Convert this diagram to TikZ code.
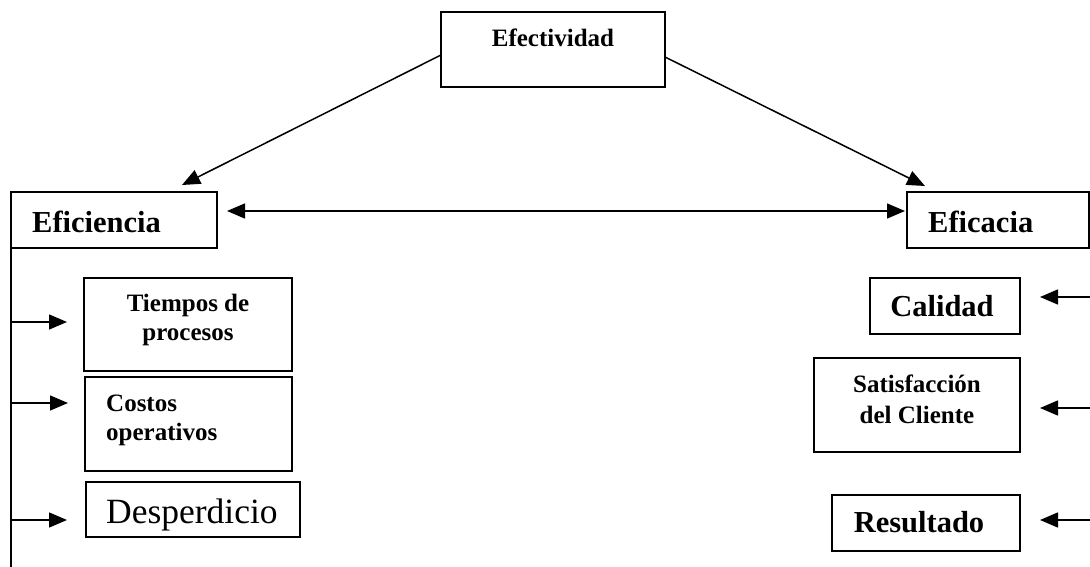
\documentclass[tikz,border=0pt]{standalone}
\usepackage{fontspec}
\setmainfont{Liberation Serif}
\usetikzlibrary{arrows.meta,calc}
\begin{document}
\begin{tikzpicture}[x=1pt,y=-1pt,
  box/.style={draw,line width=2pt,inner sep=0pt,outer sep=0pt,minimum width=#1},
  big/.style={font=\bfseries\fontsize{30.5}{36}\selectfont,inner sep=0pt},
  small/.style={font=\bfseries\fontsize{25}{#1}\selectfont,inner sep=0pt},
  small/.default=29,
  tip/.style={-{Triangle[length=18pt,width=15pt]}},
  arr/.style={line width=1.5pt,tip},
  dbl/.style={line width=1.5pt,{Triangle[length=18pt,width=15pt]}-{Triangle[length=18pt,width=15pt]}},
  plain/.style={line width=1.5pt}]
\useasboundingbox (0,0) rectangle (1090,567);

% boxes
\node[box=224pt,minimum height=75pt] (eff) at (553,49.5) {};
\node[box=206pt,minimum height=56pt] (efi) at (114,220) {};
\node[box=182pt,minimum height=56pt] (efa) at (998,220) {};
\node[box=208pt,minimum height=93pt] (tie) at (188,324.5) {};
\node[box=207pt,minimum height=94pt] (cos) at (188.5,424) {};
\node[box=214pt,minimum height=55pt] (des) at (193,509.5) {};
\node[box=150pt,minimum height=56pt] (cal) at (945,306) {};
\node[box=206pt,minimum height=94pt] (sat) at (917,405) {};
\node[box=188pt,minimum height=56pt] (res) at (926,523) {};

% labels (multi-line nodes are anchored at the baseline of their last line)
\node[small,anchor=base] (tEff) at (553,47) {Efectividad};
\node[big,anchor=base west] (tEfi) at (32,232) {Eficiencia};
\node[big,anchor=base west] (tEfa) at (928,232) {Eficacia};
\node[small,align=center,anchor=base] (tTie) at (188,340) {Tiempos de\\procesos};
\node[small,align=left,anchor=base west] (tCos) at (106,440) {Costos\\operativos};
\node[font=\fontsize{35.5}{40}\selectfont,inner sep=0pt,anchor=base west] (tDes) at (106,523) {Desperdicio};
\node[big,anchor=base] (tCal) at (942,316) {Calidad};
\node[small=31,align=center,anchor=base] (tSat) at (917,423) {Satisfacción\\del Cliente};
\node[big,anchor=base] (tRes) at (919,532) {Resultado};

% top-level connectors
\coordinate (effL) at ($(eff.north west)+(0,43)$);
\coordinate (effR) at ($(eff.north east)+(0,45)$);
\coordinate (efiTip) at ($(efi.north west)+(171,-7)$);
\coordinate (efaTip) at ($(efa.north west)+(18,-6)$);
\draw[arr] (effL) -- (efiTip);
\draw[arr] (effR) -- (efaTip);
\coordinate (efiM) at ($(efi.north east)+(0,19)$);
\coordinate (efaM) at ($(efa.north west)+(0,19)$);
\draw[dbl,shorten <=10pt,shorten >=2pt] (efiM) -- (efaM);

% left spine with branches
\coordinate (spineEnd) at ($(efi.south west)+(0,320)$);
\draw[plain] (efi.south west) -- (spineEnd);
\coordinate (s1) at ($(efi.south west)+(0,74)$);
\coordinate (s2) at ($(efi.south west)+(0,155)$);
\coordinate (s3) at ($(efi.south west)+(0,272)$);
\draw[arr,shorten >=17pt] (s1) -- (tie.west |- s1);
\draw[arr,shorten >=17pt] (s2) -- (cos.west |- s2);
\draw[arr,shorten >=19pt] (s3) -- (des.west |- s3);

% right branches
\coordinate (r1) at ($(efa.south east)+(1,49)$);
\coordinate (r2) at ($(efa.south east)+(1,160)$);
\coordinate (r3) at ($(efa.south east)+(1,272)$);
\draw[arr,shorten >=20pt] (r1) -- (cal.east |- r1);
\draw[arr,shorten >=20pt] (r2) -- (sat.east |- r2);
\draw[arr,shorten >=20pt] (r3) -- (res.east |- r3);
\end{tikzpicture}
\end{document}
